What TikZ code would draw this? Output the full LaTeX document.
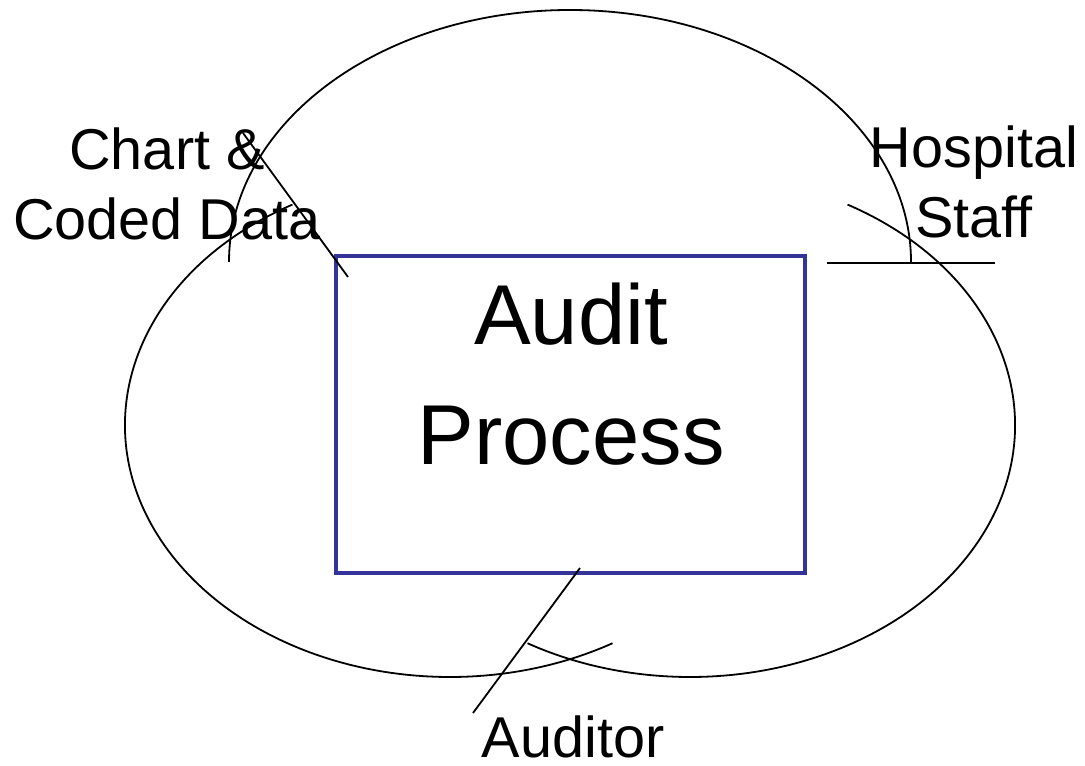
\documentclass[tikz,border=0pt]{standalone}
\usepackage{fontspec}
\setmainfont{Liberation Sans}
\definecolor{colorBox}{HTML}{333399}

\begin{document}
\begin{tikzpicture}[x=0.5pt,y=0.5pt,every node/.append style={align=center},outline/.style={draw, line width=0.9pt},callout/.style={draw, line width=0.9pt},procbox/.style={rectangle, draw=colorBox, line width=2.4pt, minimum width=234.5pt, minimum height=158.5pt, inner sep=0pt},lbl/.style={font=\fontsize{28.8pt}{35pt}\selectfont, anchor=base, inner sep=0pt},big/.style={font=\fontsize{42.5pt}{60pt}\selectfont, anchor=base, inner sep=0pt}]
    \useasboundingbox (0,0) rectangle (1085,765);
    \draw[outline] (229,503) arc[start angle=180, end angle=0, x radius=170.5pt, y radius=126pt];
    \draw[outline] (450,340) ++(119:162.5pt and 126pt) arc[start angle=119, end angle=300, x radius=162.5pt, y radius=126pt];
    \draw[outline] (690,340) ++(61:162.5pt and 126pt) arc[start angle=61, end angle=-120, x radius=162.5pt, y radius=126pt];
    \node [procbox] (box) at (570.5,350.5) {};
    \node [big] (title) at (571,300) {Audit\\Process};
    \node [lbl] (chart) at (167,525) {Chart \&\\Coded Data};
    \node [lbl] (staff) at (974,527) {Hospital\\Staff};
    \node [lbl] (auditor) at (573,8) {Auditor};
    \coordinate (chartA) at (243,632);
    \coordinate (chartB) at (348,488);
    \coordinate (staffA) at (827,502);
    \coordinate (staffB) at (995,502);
    \coordinate (audA) at (473,52);
    \coordinate (audB) at (580,197);
    \draw[callout] (chartA) -- (chartB);
    \draw[callout] (staffA) -- (staffB);
    \draw[callout] (audA) -- (audB);
\end{tikzpicture}
\end{document}
